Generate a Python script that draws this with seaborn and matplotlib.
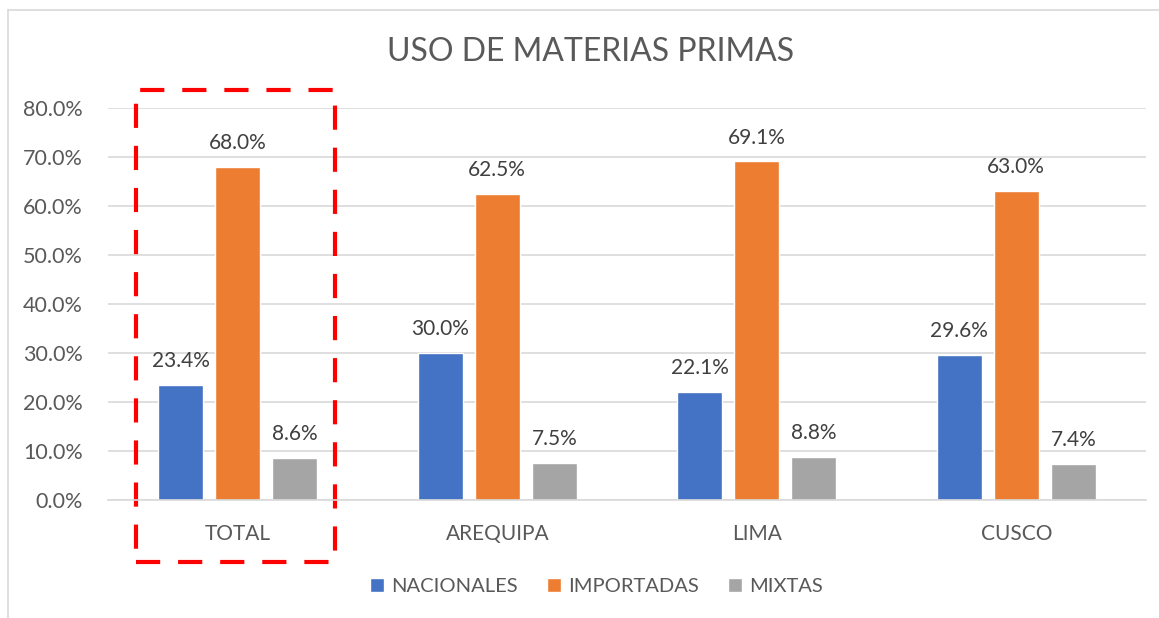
import pandas as pd
import numpy as np
import matplotlib
matplotlib.use("Agg")
import matplotlib.pyplot as plt
import seaborn as sns
from matplotlib.patches import Rectangle
from matplotlib.ticker import PercentFormatter

regiones = ["TOTAL", "AREQUIPA", "LIMA", "CUSCO"]
nacionales = [23.4, 30.0, 22.1, 29.6]
importadas = [68.0, 62.5, 69.1, 63.0]
mixtas = [8.6, 7.5, 8.8, 7.4]
series = ["NACIONALES", "IMPORTADAS", "MIXTAS"]
colores = ["#4472C4", "#ED7D31", "#A5A5A5"]

df = pd.DataFrame({
    "region": regiones * 3,
    "tipo": [s for s in series for _ in regiones],
    "valor": nacionales + importadas + mixtas,
})

sns.set_theme(style="white")
plt.rcParams["font.family"] = ["Lato", "DejaVu Sans"]
txt = "#595959"

fig = plt.figure(figsize=(11.59, 6.18), dpi=100)
ax = fig.add_axes([108 / 1159, 1 - 500 / 618, 1038 / 1159, 392 / 618])

sns.barplot(data=df, x="region", y="valor", hue="tipo", order=regiones,
            hue_order=series, palette=colores, width=0.66, gap=0.21,
            saturation=1, ax=ax, legend=True)

ax.set_ylim(0, 80)
ax.set_xlim(-0.5, 3.5)
ax.set_yticks(np.arange(0, 81, 10))
ax.yaxis.set_major_formatter(PercentFormatter(decimals=1))
ax.grid(axis="y", color="#D9D9D9", linewidth=1.2)
ax.set_axisbelow(True)
for s in ["left", "right", "top"]:
    ax.spines[s].set_visible(False)
ax.spines["bottom"].set_color("#D9D9D9")
ax.spines["bottom"].set_linewidth(1.2)
ax.tick_params(axis="y", length=0, labelsize=15.5, colors=txt, pad=18)
ax.tick_params(axis="x", length=0, labelsize=15, colors=txt, pad=17)
ax.set_xlabel("")
ax.set_ylabel("")

for cont in ax.containers:
    ax.bar_label(cont, labels=[f"{v:.1f}%" for v in cont.datavalues],
                 padding=10, fontsize=15, color="#404040")

fig.text(591 / 1159, 1 - 52 / 618, "USO DE MATERIAS PRIMAS", fontsize=23,
         color=txt, ha="center", va="center")

leg = ax.legend(loc="upper center", bbox_to_anchor=(0.4705, -0.153), ncol=3,
                frameon=False, fontsize=14.5, handlelength=0.7, handleheight=0.7,
                handletextpad=0.35, columnspacing=1.45)
for t in leg.get_texts():
    t.set_color(txt)

# recuadro rojo alrededor de TOTAL
rect = Rectangle((-0.392, -12.7), 0.767, 96.4, transform=ax.transData,
                 fill=False, edgecolor="#FF0000", linewidth=3,
                 linestyle=(0, (5.8, 4.3)), clip_on=False)
ax.add_patch(rect)

# marco del grafico
fig.add_artist(plt.Line2D([8 / 1159, 8 / 1159], [0, 1 - 10 / 618],
                          color="#D9D9D9", linewidth=1.2))
fig.add_artist(plt.Line2D([8 / 1159, 1], [1 - 10 / 618, 1 - 10 / 618],
                          color="#D9D9D9", linewidth=1.2))

fig.savefig("out.png", dpi=100)
